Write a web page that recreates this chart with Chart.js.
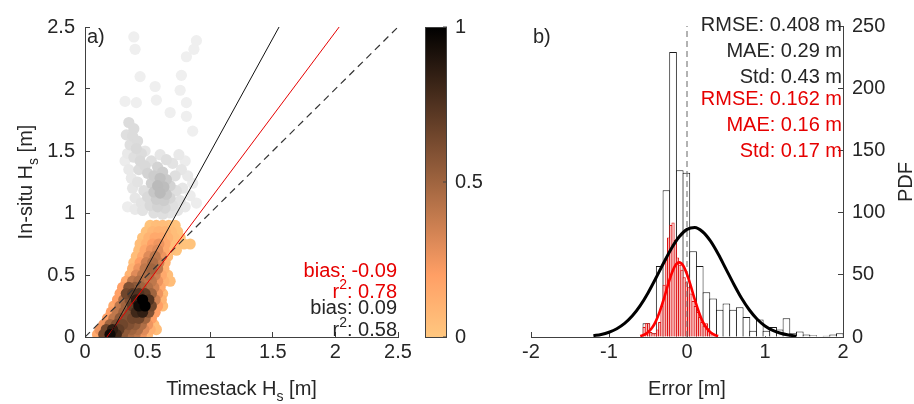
<!DOCTYPE html>
<html><head><meta charset="utf-8">
<script src="https://cdn.jsdelivr.net/npm/chart.js@4.4.1/dist/chart.umd.min.js"></script>
<style>
html,body{margin:0;padding:0;background:#fff;}
#wrap{position:relative;width:914px;height:404px;overflow:hidden;background:#fff;}
canvas{position:absolute;top:0;}
</style></head><body>
<div id="wrap">
<canvas id="cA" width="520" height="404" style="left:0;width:520px;height:404px"></canvas>
<canvas id="cB" width="434" height="404" style="left:480px;width:434px;height:404px"></canvas>
</div>
<script>
// ---------------- Panel a data ----------------
const xTicksA = [0, 0.5, 1, 1.5, 2, 2.5];
const yTicksA = [0, 0.5, 1, 1.5, 2, 2.5];
const cbTicks = [0, 0.5, 1];
// orange density cloud (rows of points; density 0..1)
const orangeRowY = [0.02,0.06,0.10,0.15,0.20,0.25,0.30,0.35,0.40,0.45,0.50,0.55,0.60,0.65,0.70,0.75,0.80,0.85,0.90];
const orangeRowX = [
 [0.10,0.15,0.20,0.25,0.30,0.35,0.40,0.45,0.50],
 [0.12,0.17,0.22,0.27,0.32,0.37,0.42,0.47,0.52,0.57],
 [0.15,0.20,0.25,0.30,0.35,0.40,0.45,0.50,0.55],
 [0.18,0.23,0.28,0.33,0.38,0.43,0.48,0.53],
 [0.21,0.26,0.31,0.36,0.41,0.46,0.51,0.56],
 [0.23,0.28,0.33,0.38,0.43,0.48,0.53,0.58,0.62],
 [0.26,0.31,0.36,0.41,0.46,0.51,0.56,0.61],
 [0.28,0.33,0.38,0.43,0.48,0.53,0.58,0.62],
 [0.30,0.35,0.40,0.45,0.50,0.55,0.60],
 [0.33,0.38,0.43,0.48,0.53,0.58,0.63,0.68],
 [0.36,0.41,0.46,0.51,0.56,0.61,0.66],
 [0.38,0.43,0.48,0.53,0.58,0.63],
 [0.39,0.44,0.49,0.54,0.59,0.64],
 [0.41,0.46,0.51,0.56,0.61,0.66],
 [0.43,0.48,0.53,0.58,0.63,0.68,0.73],
 [0.44,0.49,0.54,0.59,0.64,0.69,0.74,0.79,0.84],
 [0.46,0.51,0.56,0.61,0.66,0.71,0.76],
 [0.49,0.54,0.59,0.64,0.69,0.74],
 [0.52,0.57,0.62,0.67,0.72]
];
const orangeRowD = [
 [0.15,0.65,0.95,0.80,0.55,0.45,0.40,0.25,0.08],
 [0.25,0.65,0.85,0.70,0.55,0.50,0.45,0.30,0.12,0.05],
 [0.25,0.50,0.60,0.65,0.60,0.55,0.45,0.25,0.05],
 [0.20,0.40,0.55,0.60,0.65,0.65,0.50,0.20],
 [0.20,0.40,0.50,0.60,0.80,0.85,0.60,0.20],
 [0.15,0.40,0.50,0.70,0.95,1.00,0.65,0.20,0.05],
 [0.20,0.45,0.60,0.85,1.00,0.75,0.35,0.10],
 [0.20,0.65,0.70,0.75,0.70,0.50,0.25,0.05],
 [0.20,0.60,0.55,0.50,0.45,0.35,0.15],
 [0.15,0.40,0.45,0.40,0.40,0.25,0.10,0.05],
 [0.10,0.30,0.40,0.45,0.35,0.15,0.05],
 [0.10,0.25,0.40,0.50,0.40,0.10],
 [0.05,0.20,0.35,0.45,0.35,0.10],
 [0.05,0.15,0.30,0.40,0.25,0.05],
 [0.05,0.15,0.25,0.30,0.15,0.05,0.02],
 [0.05,0.10,0.20,0.25,0.15,0.05,0.03,0.02,0.02],
 [0.03,0.10,0.15,0.15,0.10,0.05,0.02],
 [0.03,0.08,0.10,0.10,0.05,0.02],
 [0.02,0.05,0.05,0.03,0.02]
];
// grey points (excluded data), density 0..1
const grayX = [0.39,0.40,0.89,0.87,0.81,0.77,0.44,0.76,0.57,0.32,0.41,0.81,0.68,0.81,0.56,0.86,
 0.35,0.39,0.33,0.38,0.42,0.36,0.41,0.45,0.39,0.44,0.48,0.43,0.50,
 0.58,0.62,0.55,0.60,0.65,0.53,0.58,0.63,0.68,0.55,0.60,0.65,0.50,0.57,0.63,0.68,0.52,0.58,0.64,0.70,
 0.47,0.45,0.40,0.38,0.42,0.46,0.40,0.55,0.62,0.68,0.74,0.76,0.80,0.73,0.78,0.84,0.72,0.77,0.82,0.86,0.70,0.75,0.80,0.53,0.65,0.60,0.48,0.34,0.32,0.35,0.37,0.89,0.34];
const grayY = [2.42,2.32,2.39,2.32,2.26,2.11,2.10,1.99,1.91,1.90,1.89,1.89,1.81,1.78,2.02,1.66,
 1.73,1.68,1.63,1.62,1.58,1.55,1.52,1.48,1.45,1.42,1.38,1.35,1.32,
 1.37,1.33,1.30,1.28,1.27,1.24,1.22,1.21,1.22,1.17,1.16,1.15,1.13,1.11,1.10,1.12,1.06,1.05,1.04,1.06,
 1.18,1.08,1.12,1.20,1.25,1.02,1.03,1.00,0.99,1.00,1.02,1.10,1.05,1.18,1.20,1.14,1.30,1.35,1.30,1.24,1.40,1.47,1.42,1.42,1.43,1.47,1.50,1.48,1.42,1.35,1.28,1.08,1.05];
const grayD = [0.05,0.05,0.05,0.05,0.05,0.05,0.05,0.05,0.05,0.05,0.05,0.05,0.05,0.05,0.05,0.05,
 0.35,0.35,0.30,0.35,0.35,0.30,0.40,0.35,0.30,0.40,0.40,0.35,0.50,
 0.50,0.60,0.60,0.80,0.65,0.55,0.90,0.85,0.50,0.70,0.90,0.70,0.40,0.60,0.60,0.45,0.40,0.50,0.45,0.30,
 0.30,0.25,0.20,0.20,0.25,0.25,0.15,0.30,0.30,0.25,0.20,0.25,0.15,0.30,0.20,0.10,0.30,0.20,0.15,0.10,0.25,0.15,0.10,0.30,0.30,0.20,0.20,0.15,0.10,0.15,0.15,0.08,0.08];
// regression lines and 1:1 line
const fitBlackX = [0.19, 1.55], fitBlackY = [0, 2.5];
const fitRedX = [0.175, 2.03], fitRedY = [0, 2.5];
const oneX = [0, 2.5], oneY = [0, 2.5];
const statsRed = ['-0.09', '0.78'];
const statsBlack = ['0.09', '0.58'];

// ---------------- Panel b data ----------------
const errTicks = [-2, -1, 0, 1, 2];
const pdfTicks = [0, 50, 100, 150, 200, 250];
const histCenters = [-0.521,-0.435,-0.350,-0.264,-0.179,-0.093,-0.008,0.078,0.163,0.249,0.334,0.420,0.505,0.591,0.676,0.762,0.847,0.933,1.018,1.104,1.189,1.275,1.360,1.446,1.531,1.617,1.702,1.788,1.873,1.959];
const histCounts  = [11,3,57,118,229,134,132,69,57,36,31,22,27,22,24,16,5,14,5,8,6,15,3,4.5,2,1.5,0.5,1,2,3];
const histRedCenters = [-0.549,-0.521,-0.492,-0.464,-0.435,-0.407,-0.378,-0.350,-0.321,-0.293,-0.264,-0.236,-0.207,-0.179,-0.150,-0.122,-0.093,-0.065,-0.036,-0.008,0.021,0.049,0.078,0.106,0.135,0.163,0.192,0.220,0.249,0.277,0.306,0.334];
const histRedCounts  = [8,11,11,4,3,3,6,12,25,42,62,80,90,92,78,64,58,54,48,44,40,35,29,25,20,16,12,9,11,7,4,1];
const normBlackX = [-1.2,-1.1,-1.0,-0.9,-0.8,-0.7,-0.6,-0.5,-0.4,-0.3,-0.2,-0.1,0,0.1,0.2,0.3,0.4,0.5,0.6,0.7,0.8,0.9,1.0,1.1,1.2,1.3,1.4];
const normBlackY = [1.05,2.0,3.8,6.6,10.9,17.0,25.2,35.4,47.2,59.5,71.2,80.6,86.5,88.0,84.6,77.2,66.7,54.6,42.4,31.1,21.7,14.3,8.9,5.3,3.0,1.6,0.8];
const normRedX = [-0.6,-0.55,-0.5,-0.45,-0.4,-0.35,-0.3,-0.25,-0.2,-0.15,-0.1,-0.05,0,0.05,0.1,0.15,0.2,0.25,0.3,0.35,0.4];
const normRedY = [0.8,1.8,3.8,7.2,12.6,20.4,30,40.7,50.5,57.5,60,57.5,50.5,40.7,30,20.4,12.6,7.2,3.8,1.8,0.8];
const zeroLineX = [0, 0], zeroLineY = [0, 250];
const statsTop = ['RMSE: 0.408 m', 'MAE: 0.29 m', 'Std: 0.43 m'];
const statsBottom = ['RMSE: 0.162 m', 'MAE: 0.16 m', 'Std: 0.17 m'];
const binWidth = 0.0855, binWidthRed = 0.0285;

// ---------------- styling ----------------
const FONT = '"Liberation Sans", Arial, Helvetica, sans-serif';
const TXT = '#262626';
const RED = '#e60000';
const AX = '#404040';
Chart.defaults.font.family = FONT;
Chart.defaults.font.size = 20;
Chart.defaults.color = TXT;
Chart.defaults.animation = false;
Chart.defaults.plugins.legend.display = false;
Chart.defaults.plugins.tooltip.enabled = false;

function copperFlip(d) {
  const t = 1 - d;
  return 'rgb(' + Math.round(255 * Math.min(1, 1.25 * t)) + ',' + Math.round(255 * 0.7812 * t) + ',' + Math.round(255 * 0.4975 * t) + ')';
}
function grayOf(d) { const g = Math.round(242 - 62 * d); return 'rgb(' + g + ',' + g + ',' + g + ')'; }

function richText(ctx, parts, x, y, align, color) {
  let w = 0;
  parts.forEach(p => { ctx.font = p[1] + 'px ' + FONT; w += ctx.measureText(p[0]).width; });
  let cx = align === 'right' ? x - w : (align === 'center' ? x - w / 2 : x);
  ctx.textAlign = 'left'; ctx.textBaseline = 'alphabetic'; ctx.fillStyle = color || TXT;
  parts.forEach(p => { ctx.font = p[1] + 'px ' + FONT; ctx.fillText(p[0], cx, y + (p[2] || 0)); cx += ctx.measureText(p[0]).width; });
}
const xy = (X, Y) => X.map((x, i) => ({ x: x, y: Y[i] }));

// ---------------- Panel a ----------------
const orangePts = [];
orangeRowY.forEach((y, i) => orangeRowX[i].forEach((x, j) => orangePts.push({ x: x, y: y, d: orangeRowD[i][j] })));
orangePts.sort((a, b) => a.d - b.d);
const grayPts = grayX.map((x, i) => ({ x: x, y: grayY[i], d: grayD[i] })).sort((a, b) => a.d - b.d);

const annotA = {
  id: 'annotA',
  afterDraw(chart) {
    const ctx = chart.ctx, ca = chart.chartArea;
    ctx.save();
    // colorbar
    const cbL = 425, cbR = 447, top = ca.top, bot = ca.bottom;
    const g = ctx.createLinearGradient(0, bot, 0, top);
    for (let k = 0; k <= 20; k++) g.addColorStop(k / 20, copperFlip(k / 20));
    ctx.fillStyle = g; ctx.fillRect(cbL, top, cbR - cbL, bot - top);
    ctx.strokeStyle = AX; ctx.lineWidth = 1; ctx.strokeRect(cbL + 0.5, top + 0.5, cbR - cbL - 1, bot - top);
    ctx.font = '20px ' + FONT; ctx.fillStyle = TXT; ctx.textAlign = 'left'; ctx.textBaseline = 'middle';
    cbTicks.forEach(v => {
      const yy = bot - v * (bot - top);
      ctx.beginPath(); ctx.moveTo(cbR - 4, yy); ctx.lineTo(cbR, yy); ctx.stroke();
      ctx.fillText(String(v), 455, yy);
    });
    // panel label
    richText(ctx, [['a)', 20]], ca.left + 2, 43, 'left');
    // stats
    const rx = ca.right - 1;
    richText(ctx, [['bias: ' + statsRed[0], 20]], rx, 277, 'right', RED);
    richText(ctx, [['r', 20], ['2', 14, -9], [': ' + statsRed[1], 20]], rx, 298, 'right', RED);
    richText(ctx, [['bias: ' + statsBlack[0], 20]], rx, 314, 'right', TXT);
    richText(ctx, [['r', 20], ['2', 14, -9], [': ' + statsBlack[1], 20]], rx, 336, 'right', TXT);
    // axis titles
    richText(ctx, [['Timestack H', 20], ['s', 14, 6], [' [m]', 20]], (ca.left + ca.right) / 2, 395, 'center');
    ctx.translate(32, (ca.top + ca.bottom) / 2); ctx.rotate(-Math.PI / 2);
    richText(ctx, [['In-situ H', 20], ['s', 14, 6], [' [m]', 20]], 0, 0, 'center');
    ctx.restore();
  }
};

new Chart(document.getElementById('cA'), {
  type: 'scatter',
  data: {
    datasets: [
      { data: xy(fitBlackX, fitBlackY), showLine: true, borderColor: '#111', borderWidth: 1, pointRadius: 0, order: 0, clip: 0 },
      { data: xy(fitRedX, fitRedY), showLine: true, borderColor: RED, borderWidth: 1, pointRadius: 0, order: 0, clip: 0 },
      { data: xy(oneX, oneY), showLine: true, borderColor: '#333', borderWidth: 1.2, borderDash: [7, 5], pointRadius: 0, order: 0, clip: 0 },
      { data: orangePts, pointRadius: 5.6, pointBorderWidth: 0, backgroundColor: 'transparent', borderColor: 'transparent', pointBackgroundColor: orangePts.map(p => copperFlip(p.d)), order: 1, clip: 0 },
      { data: grayPts, pointRadius: 5.6, pointBorderWidth: 0, backgroundColor: 'transparent', borderColor: 'transparent', pointBackgroundColor: grayPts.map(p => grayOf(p.d)), order: 2, clip: 0 }
    ]
  },
  options: {
    responsive: false, devicePixelRatio: 1,
    layout: { padding: { left: 0, right: 122, top: 23, bottom: 0 } },
    scales: {
      x: { type: 'linear', min: 0, max: 2.5, z: 1,
        afterBuildTicks: s => { s.ticks = xTicksA.map(v => ({ value: v })); },
        afterFit: s => { s.height = 67; },
        ticks: { padding: 8, color: TXT, maxRotation: 0, autoSkip: false, callback: v => String(v) },
        grid: { drawOnChartArea: false, drawTicks: true, tickLength: -5, color: AX },
        border: { display: true, color: AX, width: 1 } },
      y: { type: 'linear', min: 0, max: 2.5, z: 1,
        afterBuildTicks: s => { s.ticks = yTicksA.map(v => ({ value: v })); },
        afterFit: s => { s.width = 85; },
        ticks: { padding: 15, color: TXT, autoSkip: false, callback: v => String(v) },
        grid: { drawOnChartArea: false, drawTicks: true, tickLength: -5, color: AX },
        border: { display: true, color: AX, width: 1 } }
    }
  },
  plugins: [annotA]
});

// ---------------- Panel b ----------------
const annotB = {
  id: 'annotB',
  afterDraw(chart) {
    const ctx = chart.ctx, ca = chart.chartArea;
    ctx.save();
    richText(ctx, [['b)', 20]], ca.left + 2, 43, 'left');
    const rx = ca.right - 1;
    const bTop = [31, 57, 83], bBot = [105, 131, 157];
    statsTop.forEach((t, i) => richText(ctx, [[t, 20]], rx, bTop[i], 'right', TXT));
    statsBottom.forEach((t, i) => richText(ctx, [[t, 20]], rx, bBot[i], 'right', RED));
    richText(ctx, [['Error [m]', 20]], (ca.left + ca.right) / 2, 395, 'center');
    ctx.translate(432, 182); ctx.rotate(-Math.PI / 2);
    richText(ctx, [['PDF', 20]], 0, 0, 'center');
    ctx.restore();
  }
};
const pxPerUnit = 312 / 4;
new Chart(document.getElementById('cB'), {
  type: 'bar',
  data: {
    datasets: [
      { type: 'line', data: xy(normBlackX, normBlackY), borderColor: '#000', borderWidth: 3, pointRadius: 0, cubicInterpolationMode: 'monotone', order: 0 },
      { type: 'line', data: xy(normRedX, normRedY), borderColor: '#ff0000', borderWidth: 2.6, pointRadius: 0, cubicInterpolationMode: 'monotone', order: 0 },
      { type: 'line', data: xy(zeroLineX, zeroLineY), borderColor: '#666', borderWidth: 1, borderDash: [6, 4], pointRadius: 0, order: 1 },
      { type: 'bar', data: xy(histRedCenters, histRedCounts), backgroundColor: '#f7b9b9', borderColor: '#e01010', borderWidth: 1, barThickness: binWidthRed * pxPerUnit + 1, grouped: false, inflateAmount: 0, order: 2 },
      { type: 'bar', data: xy(histCenters, histCounts), backgroundColor: '#ffffff', borderColor: '#1a1a1a', borderWidth: 1, barThickness: binWidth * pxPerUnit + 1, grouped: false, inflateAmount: 0, order: 3 }
    ]
  },
  options: {
    responsive: false, devicePixelRatio: 1,
    layout: { padding: { left: 51, right: 0, top: 23, bottom: 0 } },
    scales: {
      x: { type: 'linear', min: -2, max: 2, offset: false, z: 1,
        afterBuildTicks: s => { s.ticks = errTicks.map(v => ({ value: v })); },
        afterFit: s => { s.height = 67; },
        ticks: { padding: 8, color: TXT, maxRotation: 0, autoSkip: false, callback: v => String(v) },
        grid: { drawOnChartArea: false, drawTicks: true, tickLength: -5, color: AX, offset: false },
        border: { display: true, color: AX, width: 1 } },
      y: { type: 'linear', position: 'right', min: 0, max: 250, z: 1,
        afterBuildTicks: s => { s.ticks = pdfTicks.map(v => ({ value: v })); },
        afterFit: s => { s.width = 71; },
        ticks: { padding: 14, color: TXT, autoSkip: false, callback: v => String(v) },
        grid: { drawOnChartArea: false, drawTicks: true, tickLength: -5, color: AX },
        border: { display: true, color: AX, width: 1 } }
    }
  },
  plugins: [annotB]
});
</script>
</body></html>
